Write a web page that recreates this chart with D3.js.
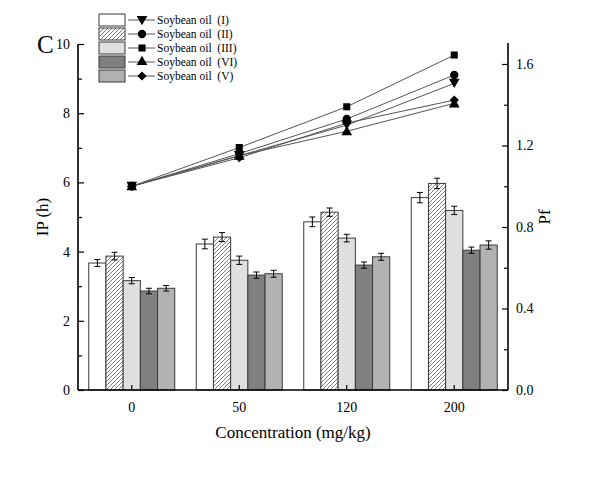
<!DOCTYPE html>
<html>
<head>
<meta charset="utf-8">
<script src="https://cdn.jsdelivr.net/npm/d3@7"></script>
<style>
html,body{margin:0;padding:0;background:#fff;}
svg{display:block;}
text{font-family:"Liberation Serif","Times New Roman",serif;fill:#000;}
</style>
</head>
<body>
<svg id="chart" width="611" height="478"></svg>
<script>
const categories = ["0", "50", "120", "200"];
const seriesNames = ["Soybean oil  (I)", "Soybean oil  (II)", "Soybean oil  (III)", "Soybean oil  (VI)", "Soybean oil  (V)"];
// IP (h) bar values, one array per series, per category
const ipI   = [3.67, 4.22, 4.86, 5.56];
const ipII  = [3.87, 4.42, 5.14, 5.97];
const ipIII = [3.16, 3.75, 4.39, 5.19];
const ipVI  = [2.86, 3.32, 3.61, 4.04];
const ipV   = [2.94, 3.36, 3.85, 4.19];
const ipErrI   = [0.10, 0.14, 0.14, 0.15];
const ipErrII  = [0.11, 0.13, 0.12, 0.15];
const ipErrIII = [0.09, 0.12, 0.11, 0.12];
const ipErrVI  = [0.08, 0.09, 0.09, 0.09];
const ipErrV   = [0.08, 0.10, 0.10, 0.12];
// Pf line values
const pfI   = [1.00, 1.15, 1.30, 1.505];
const pfII  = [1.00, 1.16, 1.33, 1.546];
const pfIII = [1.00, 1.19, 1.39, 1.644];
const pfVI  = [1.00, 1.15, 1.27, 1.407];
const pfV   = [1.00, 1.14, 1.31, 1.423];
const leftTicks = [0, 2, 4, 6, 8, 10];
const rightTicks = [0.0, 0.4, 0.8, 1.2, 1.6];

const ipData = [ipI, ipII, ipIII, ipVI, ipV];
const errData = [ipErrI, ipErrII, ipErrIII, ipErrVI, ipErrV];
const pfData = [pfI, pfII, pfIII, pfVI, pfV];
const fills = ["#ffffff", "url(#hatch)", "#e0e0e0", "#808080", "#b2b2b2"];
const symbols = [
  d3.symbol().type(d3.symbolTriangle).size(50),
  d3.symbol().type(d3.symbolCircle).size(55),
  d3.symbol().type(d3.symbolSquare).size(50),
  d3.symbol().type(d3.symbolTriangle).size(50),
  d3.symbol().type(d3.symbolSquare).size(42)
];
const symRot = [180, 0, 0, 0, 45];
const symDy = [-1.5, 0, 0, 1, 0];

const svg = d3.select("#chart");
const defs = svg.append("defs");
const pat = defs.append("pattern").attr("id", "hatch").attr("patternUnits", "userSpaceOnUse")
  .attr("width", 4).attr("height", 4);
pat.append("rect").attr("width", 4).attr("height", 4).attr("fill", "#fff");
pat.append("path").attr("d", "M-1,1 l2,-2 M0,4 l4,-4 M3,5 l2,-2").attr("stroke", "#707070").attr("stroke-width", 0.9);

const L = 78, R = 508, T = 44, B = 390;
const x = d3.scaleBand().domain(categories).range([L, R]).padding(0);
const yL = d3.scaleLinear().domain([0, 10]).range([B, T]);
const yR = d3.scaleLinear().domain([0, 1.7]).range([B, B - 1.7 * 203.75]);
const barW = 17.2;
const xs = d3.scaleBand().domain(d3.range(5)).range([-barW * 2.5, barW * 2.5]).padding(0);

// bars
ipData.forEach((arr, si) => {
  const g = svg.append("g");
  g.selectAll("rect").data(arr).join("rect")
    .attr("x", (d, i) => x(categories[i]) + x.bandwidth() / 2 + xs(si))
    .attr("y", d => yL(d))
    .attr("width", xs.bandwidth())
    .attr("height", d => B - yL(d))
    .attr("fill", fills[si])
    .attr("stroke", "#3a3a3a").attr("stroke-width", 1);
  // error bars
  arr.forEach((d, i) => {
    const cx = x(categories[i]) + x.bandwidth() / 2 + xs(si) + xs.bandwidth() / 2;
    const e = errData[si][i];
    const y1 = yL(d + e), y2 = yL(d - e);
    g.append("line").attr("x1", cx).attr("x2", cx).attr("y1", y1).attr("y2", y2).attr("stroke", "#000").attr("stroke-width", 1);
    g.append("line").attr("x1", cx - 3).attr("x2", cx + 3).attr("y1", y1).attr("y2", y1).attr("stroke", "#000").attr("stroke-width", 1);
    g.append("line").attr("x1", cx - 3).attr("x2", cx + 3).attr("y1", y2).attr("y2", y2).attr("stroke", "#000").attr("stroke-width", 1);
  });
});

// axes
const axL = d3.axisLeft(yL).tickValues(d3.range(0, 11, 1)).tickSize(-6).tickFormat(d => leftTicks.includes(d) ? d : "").tickPadding(8);
const gL = svg.append("g").attr("transform", `translate(${L},0)`).call(axL);
gL.selectAll(".tick line").attr("x2", d => leftTicks.includes(d) ? 6 : 4);
const axR = d3.axisRight(yR).tickValues(d3.range(0, 9).map(i => +(i * 0.2).toFixed(1))).tickSize(-6)
  .tickFormat(d => rightTicks.some(t => Math.abs(t - d) < 1e-6) ? d3.format(".1f")(d) : "").tickPadding(8);
const gR = svg.append("g").attr("transform", `translate(${R},0)`).call(axR);
gR.selectAll(".tick line").attr("x2", d => rightTicks.some(t => Math.abs(t - d) < 1e-6) ? -6 : -4);
const axB = d3.axisBottom(x).tickSize(-5).tickPadding(12);
const gB = svg.append("g").attr("transform", `translate(0,${B})`).call(axB);
[gL, gR, gB].forEach(g => {
  g.attr("font-family", null);
  g.select(".domain").attr("stroke", "#000").attr("stroke-width", 1.6);
  g.selectAll(".tick line").attr("stroke", "#000").attr("stroke-width", 1.2);
  g.selectAll("text").style("font-family", '"Liberation Serif","Times New Roman",serif').style("font-size", "14px").attr("fill", "#000");
});
gL.select(".domain").attr("d", `M0,${B}V${T}`);
gR.select(".domain").attr("d", `M0,${B}V${T - 1}`);
gB.select(".domain").attr("d", `M${L},0H${R}`);

// lines
const line = d3.line().x((d, i) => x(categories[i]) + x.bandwidth() / 2).y(d => yR(d));
pfData.forEach((arr, si) => {
  svg.append("path").datum(arr).attr("d", line).attr("fill", "none").attr("stroke", "#555").attr("stroke-width", 1);
});
pfData.forEach((arr, si) => {
  svg.append("g").selectAll("path").data(arr).join("path")
    .attr("d", symbols[si])
    .attr("transform", (d, i) => `translate(${x(categories[i]) + x.bandwidth() / 2},${yR(d) + symDy[si]}) rotate(${symRot[si]})`)
    .attr("fill", "#000");
});

// axis titles
svg.append("text").attr("transform", `translate(48,${(T + B) / 2}) rotate(-90)`).attr("text-anchor", "middle")
  .style("font-size", "17px").text("IP (h)");
svg.append("text").attr("transform", `translate(550,${(T + B) / 2}) rotate(-90)`).attr("text-anchor", "middle")
  .style("font-size", "17px").text("Pf");
svg.append("text").attr("x", (L + R) / 2).attr("y", 438).attr("text-anchor", "middle")
  .style("font-size", "17px").text("Concentration (mg/kg)");
svg.append("text").attr("x", 37).attr("y", 53).style("font-size", "25px").text("C");

// legend
const lg = svg.append("g");
seriesNames.forEach((name, si) => {
  const cy = 20 + si * 14;
  lg.append("rect").attr("x", 99).attr("y", cy - 6).attr("width", 26).attr("height", 12)
    .attr("fill", fills[si]).attr("stroke", "#3a3a3a").attr("stroke-width", 1);
  lg.append("line").attr("x1", 128).attr("x2", 155).attr("y1", cy).attr("y2", cy).attr("stroke", "#555").attr("stroke-width", 1);
  lg.append("path").attr("d", symbols[si]).attr("fill", "#000")
    .attr("transform", `translate(142,${cy + (symRot[si] === 180 ? -1 : 0)}) rotate(${symRot[si]})`);
  lg.append("text").attr("x", 157).attr("y", cy + 4).style("font-size", "11.5px").attr("xml:space", "preserve").text(name);
});
</script>
</body>
</html>
